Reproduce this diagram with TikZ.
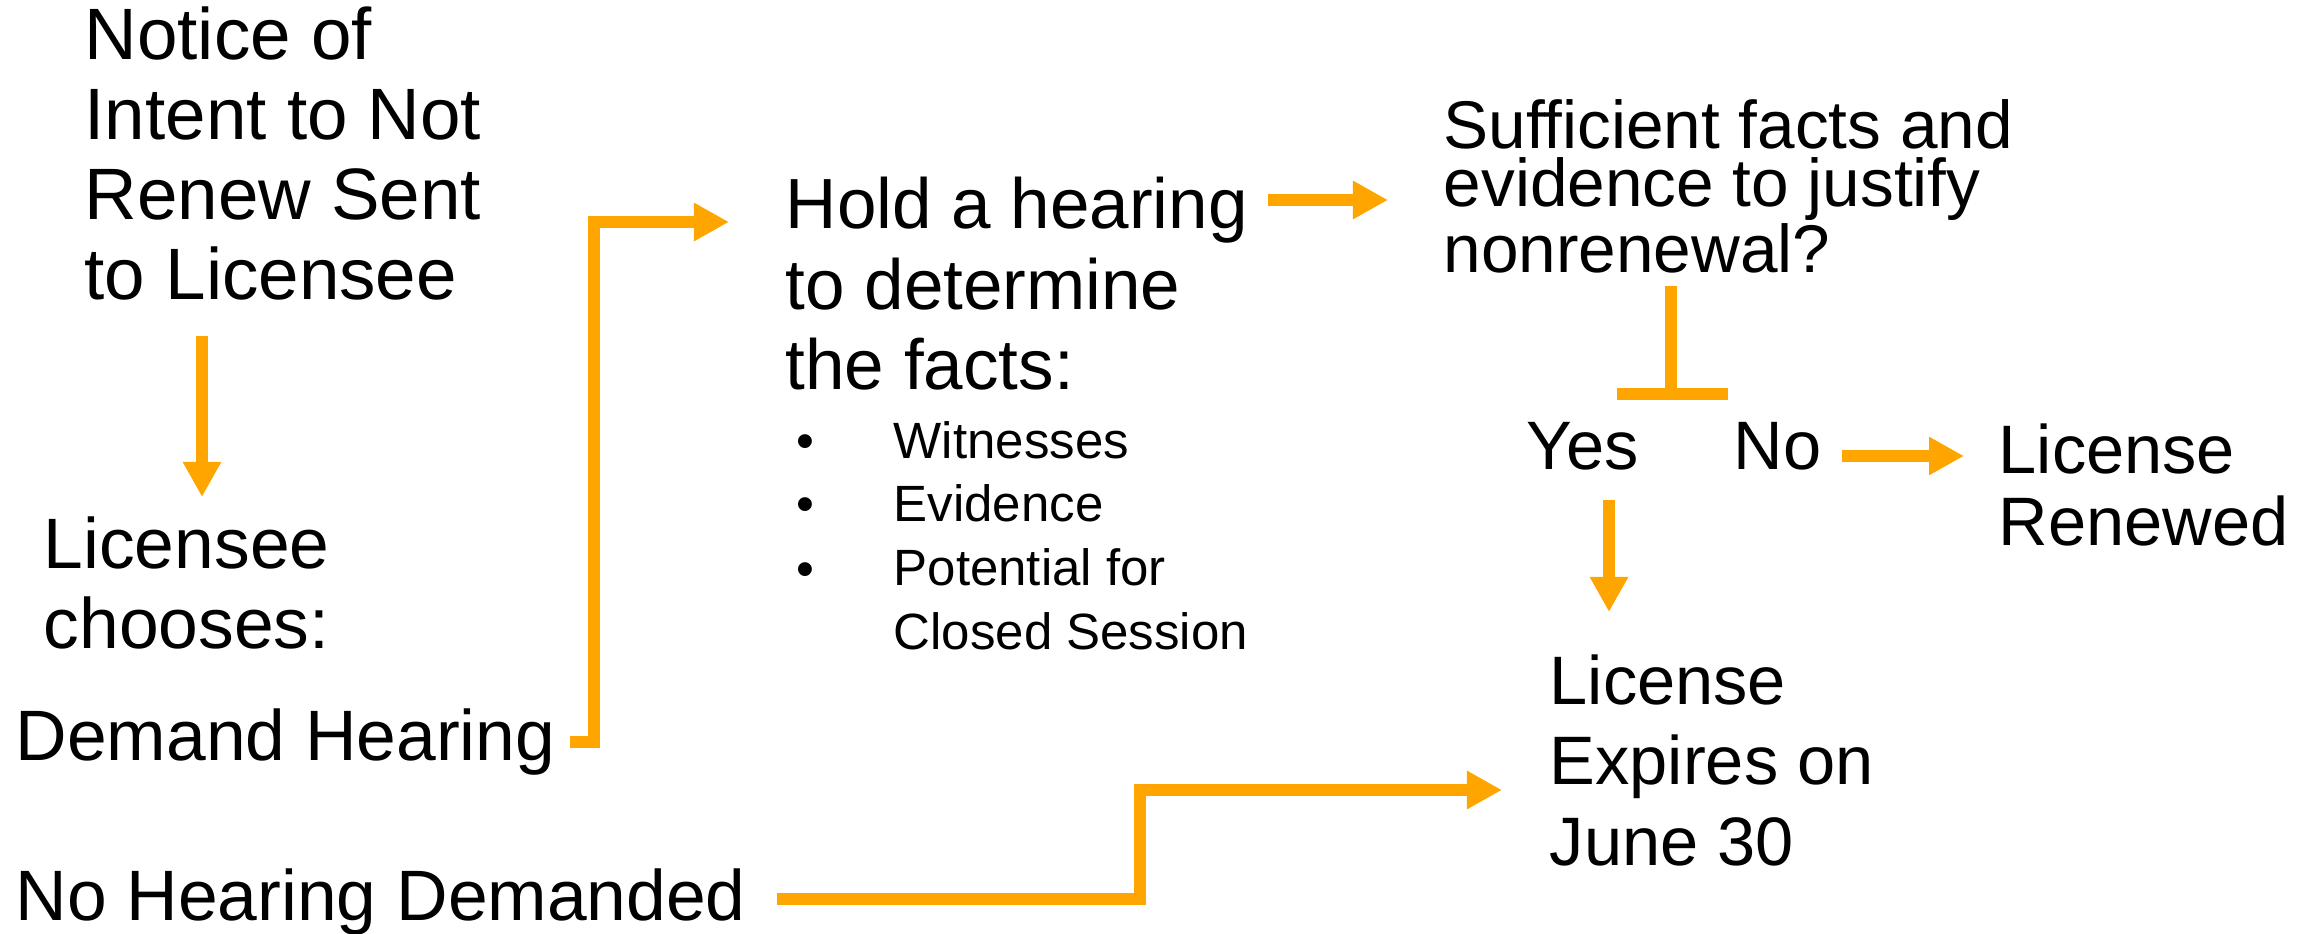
\documentclass[tikz,border=0pt]{standalone}
\usepackage{fontspec}
\setmainfont{Liberation Sans}
\usepackage{xcolor}
\usepackage{tikz}
\usetikzlibrary{arrows.meta,positioning}

\definecolor{flowamber}{RGB}{255,165,0}

\tikzset{
    txt/.style={anchor=base west, inner sep=0pt, align=left},
    bigtxt/.style={txt, font=\fontsize{20.3}{22.8}\selectfont},
    asktxt/.style={txt, font=\fontsize{19.2}{16.5}\selectfont},
    smalltxt/.style={txt, font=\fontsize{14.5}{18.2}\selectfont},
    flowline/.style={draw=flowamber, line width=0.115cm},
    flow/.style={flowline, -{Triangle[length=0.35cm,width=0.36cm]}}
}

\begin{document}
\begin{tikzpicture}[x=0.01cm, y=-0.01cm]
    \useasboundingbox (0,0) rectangle (2318,934);

    % left column (base = last line)
    \node[bigtxt, font=\fontsize{20.7}{22.8}\selectfont] (notice) at (84,300) {Notice of\\Intent to Not\\Renew Sent\\to Licensee};
    \node[bigtxt] (licensee) at (43,649) {Licensee\\chooses:};
    \node[bigtxt] (demand) at (15,761) {Demand Hearing};
    \node[bigtxt] (nohearing) at (15,920) {No Hearing Demanded};

    % hearing
    \node[bigtxt, font=\fontsize{20.2}{23}\selectfont] (hold) at (785,390) {Hold a hearing\\to determine\\the facts:};
    \foreach \fact/\yy/\dy [count=\i] in {Witnesses/459/459, Evidence/522/522, {Potential for\\Closed Session}/650/587} {
        \node[smalltxt] (fact\i) at (893,\yy) {\fact};
        \node[smalltxt, anchor=base] (dot\i) at (805,\dy) {\textbullet};
    }

    % decision
    \node[asktxt] (ask) at (1443,273) {Sufficient facts and\\evidence to justify\\nonrenewal?};
    \node[bigtxt, font=\fontsize{19.5}{20.5}\selectfont] (yes) at (1526,470) {Yes};
    \node[bigtxt, font=\fontsize{19.5}{20.5}\selectfont] (no) at (1733,470) {No};
    \node[bigtxt, font=\fontsize{19.5}{20.5}\selectfont] (renewed) at (1998,546) {License\\Renewed};
    \node[bigtxt, font=\fontsize{19.5}{22.8}\selectfont] (expires) at (1549,865) {License\\Expires on\\June 30};

    % connector ends
    \coordinate (noticeout) at (202,336);
    \coordinate (licenseein) at (202,497);
    \coordinate (demandout) at (570,742);
    \coordinate (holdin) at (729,222);
    \coordinate (holdout) at (1268,200);
    \coordinate (askin) at (1388,200);
    \coordinate (askout) at (1671,286);
    \coordinate (forkmid) at (1671,388);
    \coordinate (forkwest) at (1617,394);
    \coordinate (forkeast) at (1728,394);
    \coordinate (yesout) at (1609,500);
    \coordinate (expiresin) at (1609,612);
    \coordinate (noout) at (1842,456);
    \coordinate (renewedin) at (1964,456);
    \coordinate (nohearingout) at (777,899);
    \coordinate (expiresside) at (1502,790);

    \draw[flow] (noticeout) -- (licenseein);
    \draw[flow] (demandout) -- ++(24,0) |- (holdin);
    \draw[flow] (holdout) -- (askin);
    \draw[flowline] (askout) -- (forkmid);
    \draw[flowline] (forkwest) -- (forkeast);
    \draw[flow] (yesout) -- (expiresin);
    \draw[flow] (noout) -- (renewedin);
    \draw[flow] (nohearingout) -- ++(363,0) |- (expiresside);
\end{tikzpicture}
\end{document}
